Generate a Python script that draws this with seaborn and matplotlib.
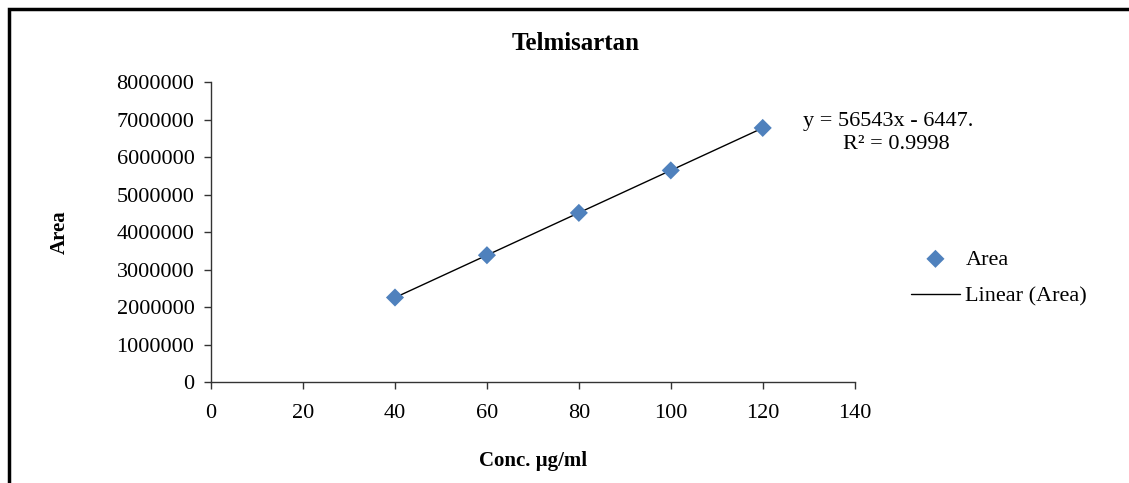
import numpy as np
import pandas as pd
import matplotlib
matplotlib.use("Agg")
import matplotlib.pyplot as plt
import seaborn as sns
from matplotlib.patches import Rectangle

conc = [40, 60, 80, 100, 120]
area = [2255000, 3383000, 4512000, 5645000, 6778000]
x_ticks = [0, 20, 40, 60, 80, 100, 120, 140]
y_ticks = [0, 1000000, 2000000, 3000000, 4000000, 5000000, 6000000, 7000000, 8000000]
title = "Telmisartan"
xlabel = "Conc. µg/ml"
ylabel = "Area"
equation = "y = 56543x - 6447."
r2_text = "R² = 0.9998"

df = pd.DataFrame({"conc": conc, "area": area})

sns.set_theme(style="white")
plt.rcParams["font.family"] = ["Liberation Serif", "DejaVu Serif"]
plt.rcParams["text.color"] = "black"
plt.rcParams["axes.labelcolor"] = "black"

fig = plt.figure(figsize=(11.29, 4.83), dpi=100)
ax = fig.add_axes([0.187, 0.209, 0.570, 0.621])

sns.regplot(data=df, x="conc", y="area", ax=ax, scatter=False, ci=None,
            truncate=True, color="black", line_kws={"linewidth": 1.0},
            label="Linear (Area)")
sns.scatterplot(data=df, x="conc", y="area", ax=ax, marker="D", s=85,
                color="#4F81BD", edgecolor="none", label="Area", zorder=3)

ax.set_xlim(0, 140)
ax.set_ylim(0, 8000000)
ax.set_xticks(x_ticks)
ax.set_yticks(y_ticks)
ax.set_xticklabels([str(v) for v in x_ticks])
ax.set_yticklabels([str(v) for v in y_ticks])
ax.tick_params(axis="both", which="major", direction="out", length=5, width=1,
               color="#333333", labelsize=16, labelcolor="black", pad=7,
               bottom=True, left=True)
ax.tick_params(axis="x", pad=11)
for s in ["top", "right"]:
    ax.spines[s].set_visible(False)
for s in ["left", "bottom"]:
    ax.spines[s].set_color("#333333")
    ax.spines[s].set_linewidth(1.0)

ax.set_xlabel(xlabel, fontsize=15, fontweight="bold", labelpad=20, color="black")
ax.set_ylabel(ylabel, fontsize=15, fontweight="bold", labelpad=34, color="black")
fig.text(576 / 1129, 1 - 43 / 483, title, fontsize=18, fontweight="bold",
         ha="center", va="center", color="black")

handles, labels = ax.get_legend_handles_labels()
order = [labels.index("Area"), labels.index("Linear (Area)")]
leg = ax.legend([handles[i] for i in order], [labels[i] for i in order],
                loc="center left", bbox_to_anchor=(911 / 1129, 1 - 278 / 483),
                bbox_transform=fig.transFigure, frameon=False, fontsize=16,
                handlelength=2.2, handletextpad=0.25, labelspacing=0.75,
                borderpad=0.0, borderaxespad=0.0)
for t in leg.get_texts():
    t.set_color("black")

fig.text(803 / 1129, 1 - 121 / 483, equation, fontsize=16, ha="left", va="center", color="black")
fig.text(843 / 1129, 1 - 145 / 483, r2_text, fontsize=16, ha="left", va="center", color="black")

fig.patches.append(Rectangle((0.008, -0.05), 1.2, 1.05 - 0.019, transform=fig.transFigure,
                             fill=False, edgecolor="black", linewidth=2.5))

fig.savefig("out.png", dpi=100, facecolor="white")
